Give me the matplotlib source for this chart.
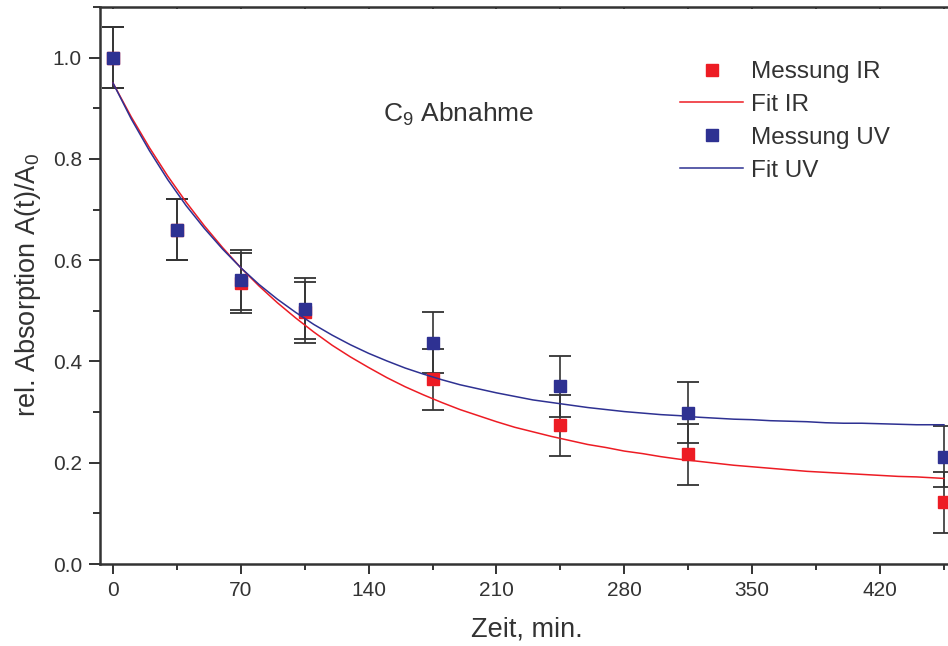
import matplotlib
matplotlib.use("Agg")
import matplotlib.pyplot as plt
from matplotlib.ticker import MultipleLocator

plt.rcParams['font.family'] = ['Liberation Sans', 'DejaVu Sans']
plt.rcParams['mathtext.fontset'] = 'custom'
plt.rcParams['mathtext.rm'] = 'Liberation Sans'
plt.rcParams['mathtext.it'] = 'Liberation Sans:italic'
plt.rcParams['mathtext.default'] = 'regular'

# ---- data ----
time_min = [0, 35, 70, 105, 175, 245, 315, 455]
ir_values = [1.0, 0.66, 0.555, 0.497, 0.365, 0.274, 0.217, 0.122]
uv_values = [1.0, 0.66, 0.561, 0.504, 0.437, 0.351, 0.299, 0.212]
ir_err = [0.06] * 8
uv_err = [0.06] * 8

fit_t = [0, 10, 20, 30, 40, 50, 60, 70, 80, 90, 100, 110, 120, 130, 140, 150,
         160, 170, 180, 190, 200, 210, 220, 230, 240, 250, 260, 270, 280, 290,
         300, 310, 320, 330, 340, 350, 360, 370, 380, 390, 400, 410, 420, 430,
         440, 450, 455]
fit_ir = [0.950, 0.883, 0.822, 0.766, 0.715, 0.668, 0.625, 0.585, 0.549, 0.516,
          0.486, 0.458, 0.432, 0.409, 0.388, 0.368, 0.350, 0.334, 0.319, 0.305,
          0.293, 0.281, 0.270, 0.261, 0.252, 0.244, 0.236, 0.230, 0.223, 0.218,
          0.212, 0.207, 0.203, 0.199, 0.195, 0.192, 0.189, 0.186, 0.183, 0.181,
          0.179, 0.177, 0.175, 0.173, 0.172, 0.170, 0.169]
fit_uv = [0.950, 0.879, 0.816, 0.759, 0.708, 0.663, 0.622, 0.585, 0.552, 0.523,
          0.497, 0.473, 0.452, 0.433, 0.416, 0.401, 0.387, 0.375, 0.364, 0.354,
          0.346, 0.338, 0.331, 0.324, 0.319, 0.314, 0.309, 0.305, 0.301, 0.298,
          0.295, 0.293, 0.290, 0.288, 0.286, 0.285, 0.283, 0.282, 0.281, 0.279,
          0.278, 0.278, 0.277, 0.276, 0.275, 0.275, 0.275]

x_ticks = [0, 70, 140, 210, 280, 350, 420]
y_ticks = [0.0, 0.2, 0.4, 0.6, 0.8, 1.0]

RED = '#ED1C24'
BLUE = '#2E3192'
DARK = '#333333'

W, H = 948, 646
fig = plt.figure(figsize=(W / 100, H / 100), dpi=100)
ax = fig.add_axes([100 / W, 82 / H, 889.6 / W, 557 / H])

eb_kw = dict(fmt='none', ecolor=DARK, elinewidth=1.2, capsize=8, capthick=1.3, zorder=2)
ax.errorbar(time_min, ir_values, yerr=ir_err, **eb_kw)
ax.errorbar(time_min, uv_values, yerr=uv_err, **eb_kw)

ax.plot(time_min, ir_values, 's', color=RED, ms=9, mec=RED, ls='none',
        label='Messung IR', zorder=3)
ax.plot(fit_t, fit_ir, '-', color=RED, lw=1.1, label='Fit IR', zorder=4)
ax.plot(time_min, uv_values, 's', color=BLUE, ms=9, mec=BLUE, ls='none',
        label='Messung UV', zorder=3)
ax.plot(fit_t, fit_uv, '-', color=BLUE, lw=1.1, label='Fit UV', zorder=4)

ax.set_xlim(-7.1, 480)
ax.set_ylim(0, 1.1)
ax.set_xticks(x_ticks)
ax.set_xticklabels([str(v) for v in x_ticks])
ax.set_yticks(y_ticks)
ax.set_yticklabels([f'{v:.1f}' for v in y_ticks])
ax.xaxis.set_minor_locator(MultipleLocator(35))
ax.yaxis.set_minor_locator(MultipleLocator(0.1))

for s in ['left', 'bottom', 'top']:
    ax.spines[s].set_color(DARK)
    ax.spines[s].set_linewidth(1.8)
ax.spines['right'].set_visible(False)

ax.tick_params(axis='x', which='major', direction='out', length=7, width=1.4,
               color=DARK, labelcolor=DARK, labelsize=15, pad=5)
ax.tick_params(axis='x', which='minor', direction='out', length=4.5, width=1.4,
               color=DARK)
ax.tick_params(axis='x', which='both', top=True)
ax.tick_params(axis='y', which='major', direction='out', length=8, width=1.4,
               color=DARK, labelcolor=DARK, labelsize=15, pad=5)
ax.tick_params(axis='y', which='minor', direction='out', length=5, width=1.4,
               color=DARK)
# tiny inward ticks on top spine
for t in ax.xaxis.get_major_ticks() + ax.xaxis.get_minor_ticks():
    t.tick2line.set_marker(3)  # TICKDOWN
    t.tick2line.set_markersize(1.5)
    t.tick2line.set_color('#999999')

ax.set_xlabel('Zeit, min.', fontsize=19.5, color=DARK)
ax.set_ylabel('rel. Absorption A(t)/A$_0$', fontsize=19.5, color=DARK)
ax.xaxis.set_label_coords(0.48, -0.095)
ax.yaxis.set_label_coords(-0.064, 0.5)

ax.text(148, 0.873, 'C$_9$ Abnahme', fontsize=19, color=DARK, va='baseline')

leg = ax.legend(loc='upper left', bbox_to_anchor=(680 / W, (H - 61) / H),
                bbox_transform=fig.transFigure, frameon=False, fontsize=17.5,
                handlelength=2.6, handletextpad=0.33, labelspacing=0.45,
                borderpad=0, borderaxespad=0, numpoints=1)
for txt in leg.get_texts():
    txt.set_color(DARK)

fig.savefig('out.png', dpi=100)
